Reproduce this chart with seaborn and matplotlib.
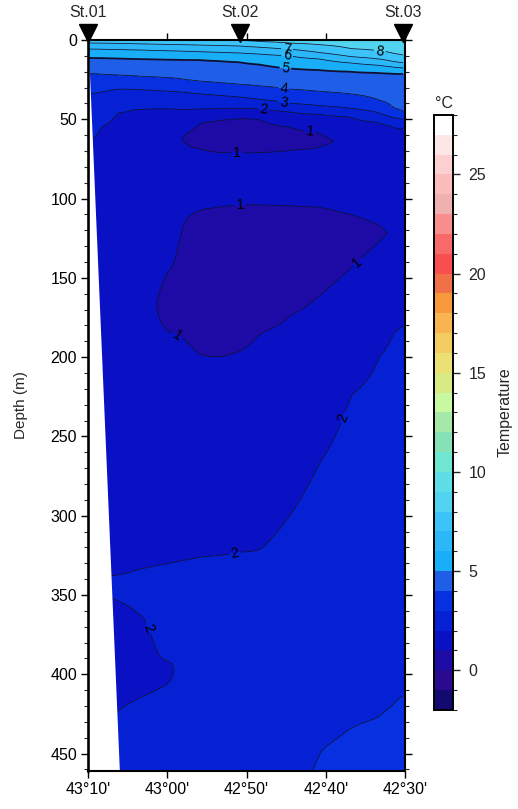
import numpy as np
import matplotlib
matplotlib.use("Agg")
import matplotlib.pyplot as plt
import seaborn as sns
from matplotlib.ticker import MultipleLocator, FixedLocator

# ---------------- data ----------------
levels = list(range(-2, 29))
level_colors = ['#120a6e', '#2a0a8e', '#1e0aa4', '#0a10c4', '#0620d4', '#0630e0',
                '#1f5fe8', '#18aef8', '#2cb8f8', '#3cc4f8', '#52d4f0', '#60dee8',
                '#6ee6d2', '#86e2b6', '#a6e8a8', '#c8f8a0', '#d8ea84', '#eae074',
                '#f4cc64', '#f8b450', '#f8983c', '#f07048', '#f85050', '#f86a6a',
                '#f88e8e', '#f0b0b0', '#fcbcbc', '#fcd0d0', '#fde6e6', '#ffffff']

station_names = ["St.01", "St.02", "St.03"]
station_lat = [70.0, 50.8, 30.25]          # minutes north of 42°N

xtick_pos = [70, 60, 50, 40, 30]
xtick_labels = ["43°10'", "43°00'", "42°50'", "42°40'", "42°30'"]

# profile columns (latitude in minutes after 42°N), depth knots (m) and temperatures (°C)
col_lat = [70.0, 68.5, 66.6, 64.7, 62.8, 60.9, 59.0, 57.8, 55.9, 53.3,
           50.8, 48.3, 44.5, 40.7, 36.9, 33.2, 31.6, 30.25]

d01 = [0, 1.9, 5.7, 11.3, 21, 34, 64, 100, 200, 300, 338, 345, 352, 390, 426, 461]
t01 = [7.6, 7, 6, 5, 4, 3, 2, 1.5, 1.5, 1.8, 2, 2.1, 2, 1.8, 2, 2.3]
d02 = [0, 2.0, 5.8, 11.4, 21.5, 33, 55, 100, 200, 300, 338, 345, 352, 390, 426, 461]
t02 = [7.62, 7, 6, 5, 4, 3, 2, 1.5, 1.5, 1.8, 2, 2.1, 2, 1.8, 2, 2.3]
d03 = [0, 2.1, 6.0, 11.6, 22, 31, 46, 80, 200, 300, 338, 345, 352, 390, 425, 461]
t03 = [7.65, 7, 6, 5, 4, 3, 2, 1.5, 1.5, 1.8, 2, 2.1, 2, 1.8, 2, 2.3]
d04 = [0, 2.3, 6.2, 11.9, 22.5, 31, 44, 80, 200, 300, 336, 346, 357, 390, 418, 461]
t04 = [7.68, 7, 6, 5, 4, 3, 2, 1.5, 1.5, 1.8, 2, 2.1, 2, 1.8, 2, 2.3]
d05 = [0, 2.5, 6.4, 12.1, 23, 31.5, 43.5, 80, 200, 300, 333, 348, 364, 390, 413, 461]
t05 = [7.7, 7, 6, 5, 4, 3, 2, 1.5, 1.4, 1.8, 2, 2.15, 2, 1.85, 2, 2.3]
d06 = [0, 2.7, 6.7, 12.3, 23.5, 32, 43.5, 80, 130, 155, 167, 180, 250, 331, 360, 391, 400, 409, 461]
t06 = [7.75, 7, 6, 5, 4, 3, 2, 1.4, 1.2, 1, 0.85, 1, 1.5, 2, 2.2, 2, 1.9, 2, 2.3]
d07 = [0, 2.9, 6.9, 12.5, 24, 32.5, 43.5, 62, 100, 142, 165, 185, 250, 329, 370, 397, 430, 461]
t07 = [7.8, 7, 6, 5, 4, 3, 2, 1.2, 1.3, 1, 0.7, 1, 1.5, 2, 2.15, 1.97, 2.2, 2.35]
d08 = [0, 3.0, 7.1, 12.6, 25, 33, 44, 59.5, 62.5, 65.5, 88, 112, 150, 189, 250, 328, 400, 461]
t08 = [7.82, 7, 6, 5, 4, 3, 2, 1, 0.9, 1, 1.3, 1, 0.65, 1, 1.5, 2, 2.3, 2.4]
d09 = [0, 3.2, 7.4, 12.6, 26, 34, 43.5, 52, 60, 68.5, 88, 107, 150, 199, 250, 326, 400, 461]
t09 = [7.88, 7, 6, 5, 4, 3, 2, 1, 0.7, 1, 1.3, 1, 0.6, 1, 1.5, 2, 2.35, 2.45]
d10 = [0, 3.5, 7.8, 13.3, 27, 35, 43.3, 50.5, 60, 71, 88, 105, 150, 200, 255, 325, 400, 461]
t10 = [7.96, 7, 6, 5, 4, 3, 2, 1, 0.6, 1, 1.3, 1, 0.55, 1, 1.5, 2, 2.4, 2.5]
d11 = [0, 0.3, 3.8, 8.2, 14, 28, 36, 43, 49.2, 60, 71.2, 88, 104, 150, 196.5, 255, 323, 400, 461]
t11 = [8.05, 8, 7, 6, 5, 4, 3, 2, 1, 0.6, 1, 1.3, 1, 0.5, 1, 1.5, 2, 2.45, 2.6]
d12 = [0, 1.0, 4.6, 8.9, 15.5, 29, 37.5, 43.5, 50, 60, 71, 88, 104, 145, 185, 250, 322, 400, 461]
t12 = [8.15, 8, 7, 6, 5, 4, 3, 2, 1, 0.6, 1, 1.3, 1, 0.5, 1, 1.5, 2, 2.5, 2.7]
d13 = [0, 2.0, 5.8, 10, 18, 31, 40, 45.5, 55, 62, 69.5, 88, 104.5, 140, 174, 240, 300, 400, 461]
t13 = [8.3, 8, 7, 6, 5, 4, 3, 2, 1, 0.75, 1, 1.3, 1, 0.55, 1, 1.5, 2, 2.6, 2.85]
d14 = [0, 3, 8, 12, 19, 32.5, 41.5, 47, 58.6, 63, 67.5, 88, 105.5, 133, 161, 210, 266, 350, 448, 461]
t14 = [8.45, 8, 7, 6, 5, 4, 3, 2, 1, 0.9, 1, 1.3, 1, 0.6, 1, 1.5, 2, 2.6, 3, 3.05]
d15 = [0, 5.5, 10.5, 14.5, 20, 34, 43, 48.5, 64, 88, 110, 127, 144, 180, 224, 330, 434, 461]
t15 = [8.55, 8, 7, 6, 5, 4, 3, 2, 1.1, 1.3, 1, 0.75, 1, 1.5, 2, 2.6, 3, 3.1]
d16 = [0, 7, 12, 16, 20.8, 38, 46, 52, 70, 100, 117, 122, 127, 160, 199, 320, 427, 461]
t16 = [8.6, 8, 7, 6, 5, 4, 3, 2, 1.3, 1.2, 1, 0.92, 1, 1.5, 2, 2.65, 3, 3.15]
d17 = [0, 8.5, 13.5, 17, 21.2, 43, 49, 54, 80, 122, 150, 184, 300, 420, 461]
t17 = [8.62, 8, 7, 6, 5, 4, 3, 2, 1.4, 1.05, 1.5, 2, 2.65, 3, 3.2]
d18 = [0, 10, 14.5, 17.7, 21.5, 46, 50, 56, 90, 130, 179, 300, 391, 413, 461]
t18 = [8.65, 8, 7, 6, 5, 4, 3, 2, 1.4, 1.5, 2, 2.7, 2.97, 3, 3.2]

# left edge of valid data (bottom topography cut)
edge_depth = [0, 461]
edge_lat = [70.0, 66.05]

# contour label anchor points (lat minutes, depth)
label_pos = {
    8: [(33.2, 7)],
    7: [(44.9, 5)],
    6: [(44.9, 10)],
    5: [(45.1, 17.7)],
    4: [(45.3, 30)],
    3: [(45.3, 39)],
    2: [(47.9, 43.5), (38.0, 238), (51.5, 323), (62.4, 371)],
    1: [(42.0, 57), (51.2, 71), (50.8, 104), (36.1, 140), (58.8, 187)],
}

# ---------------- grid the section ----------------
profiles = [(d01, t01), (d02, t02), (d03, t03), (d04, t04), (d05, t05), (d06, t06),
            (d07, t07), (d08, t08), (d09, t09), (d10, t10), (d11, t11), (d12, t12),
            (d13, t13), (d14, t14), (d15, t15), (d16, t16), (d17, t17), (d18, t18)]
depth_grid = np.linspace(0, 461, 1845)
lat_grid = np.linspace(min(col_lat), max(col_lat), 400)
cols = np.array([np.interp(depth_grid, d, t) for d, t in profiles])
order = np.argsort(col_lat)
lat_sorted = np.array(col_lat)[order]
cols = cols[order]
T = np.empty((depth_grid.size, lat_grid.size))
for i in range(depth_grid.size):
    T[i] = np.interp(lat_grid, lat_sorted, cols[:, i])
# light smoothing along the section
step = lat_grid[1] - lat_grid[0]
sig = 0.5 / step
half = int(3 * sig)
k = np.exp(-0.5 * (np.arange(-half, half + 1) / sig) ** 2)
k /= k.sum()
P = np.pad(T, ((0, 0), (half, half)), mode="edge")
Ts = np.zeros_like(T)
for j, w in enumerate(k):
    Ts += w * P[:, j:j + T.shape[1]]
T = Ts

# ---------------- plot ----------------
sns.set_theme(style="ticks")
plt.rcParams['font.family'] = ['Liberation Sans', 'DejaVu Sans']
plt.rcParams['axes.edgecolor'] = 'black'

fig = plt.figure(figsize=(5.18, 8.09), dpi=100)
ax = fig.add_axes([0.170, 0.047, 0.612, 0.9036])

cf = ax.contourf(lat_grid, depth_grid, T, levels=levels, colors=level_colors)
for lev, pos in label_pos.items():
    cs = ax.contour(lat_grid, depth_grid, T, levels=[lev], colors='#101030',
                    linewidths=1.3 if lev == 5 else 0.55)
    ax.clabel(cs, manual=pos, inline=True, inline_spacing=2, fontsize=10,
              fmt='%d', colors='black')

ax.fill_betweenx(edge_depth, edge_lat, 70.0, color='white', zorder=2.5, lw=0)

ax.set_xlim(70, 30)
ax.set_ylim(461, 0)
ax.set_xticks(xtick_pos)
ax.set_xticklabels(xtick_labels)
ax.xaxis.set_ticks_position('both')
ax.yaxis.set_ticks_position('both')
ax.yaxis.set_major_locator(MultipleLocator(50))
ax.yaxis.set_minor_locator(MultipleLocator(10))
ax.tick_params(axis='both', which='major', direction='out', length=5, width=1,
               labelsize=11.5, colors='black', pad=3)
ax.tick_params(axis='both', which='minor', direction='out', length=3, width=0.8)
ax.tick_params(axis='x', top=True, labeltop=False)
ax.tick_params(axis='y', right=True, labelright=False)
ax.set_ylabel("Depth (m)", fontsize=11, labelpad=16)
for s in ax.spines.values():
    s.set_linewidth(1.5)
    s.set_color('black')
    s.set_zorder(5)
ax.spines['left'].set_linewidth(1.9)

xtr = ax.get_xaxis_transform()
ax.plot(station_lat, [1.0100] * len(station_lat), marker='v', ls='none', ms=13,
        color='black', transform=xtr, clip_on=False, zorder=6)
for name, la in zip(station_names, station_lat):
    ax.text(la, 1.027, name, transform=xtr, ha='center', va='bottom', fontsize=11.5)

cax = fig.add_axes([0.838, 0.1224, 0.0367, 0.7355])
cb = fig.colorbar(cf, cax=cax)
cb.set_ticks([0, 5, 10, 15, 20, 25])
cax.yaxis.set_minor_locator(FixedLocator(levels))
cax.tick_params(which='major', direction='out', length=5, width=1, labelsize=11.5, pad=6)
cax.tick_params(which='minor', direction='out', length=3, width=0.8)
cb.outline.set_linewidth(1.4)
cb.outline.set_edgecolor('black')
cb.set_label("Temperature", fontsize=11.5, labelpad=8)
cax.set_title("°C", fontsize=11.5, pad=5)

fig.savefig("out.png", dpi=100)
